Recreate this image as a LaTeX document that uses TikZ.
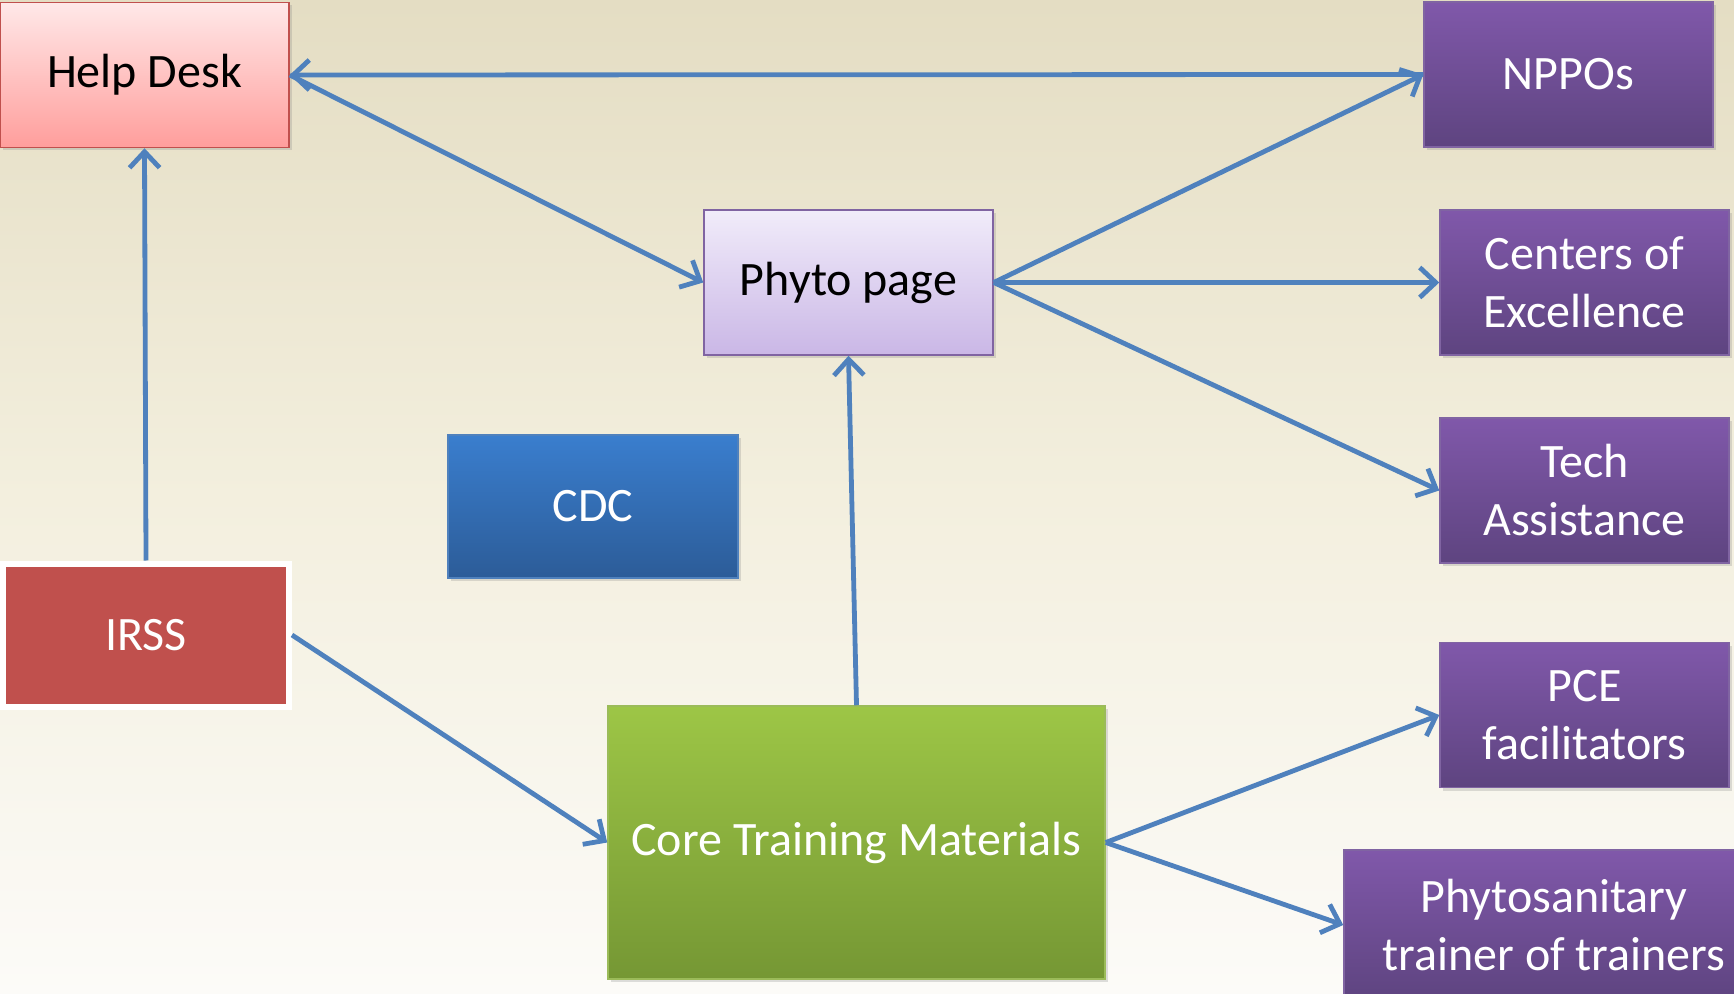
\documentclass[tikz,border=0pt]{standalone}
\usepackage{fontspec}
\setmainfont{Carlito}
\usetikzlibrary{arrows.meta,shadows}

\definecolor{linkblue}{RGB}{79,129,189}
\definecolor{bgtop}{RGB}{228,221,195}
\definecolor{bgmid}{RGB}{243,239,222}
\definecolor{bgbot}{RGB}{252,251,248}
\definecolor{helptop}{RGB}{255,232,232}
\definecolor{helpbot}{RGB}{255,158,156}
\definecolor{helpedge}{RGB}{192,80,77}
\definecolor{phytotop}{RGB}{241,236,250}
\definecolor{phytobot}{RGB}{202,183,230}
\definecolor{purpleedge}{RGB}{128,100,162}
\definecolor{purpletop}{RGB}{128,88,170}
\definecolor{purplebot}{RGB}{94,68,128}
\definecolor{cdctop}{RGB}{58,126,206}
\definecolor{cdcbot}{RGB}{44,92,152}
\definecolor{irssred}{RGB}{192,80,77}
\definecolor{coretop}{RGB}{157,198,70}
\definecolor{corebot}{RGB}{117,151,52}
\definecolor{coreedge}{RGB}{155,187,89}

\tikzset{every picture/.style={line width=0.75pt}}
\tikzset{
  box/.style={rectangle, inner sep=0pt, align=center, minimum width=144.5pt, minimum height=72.5pt,
    font=\fontsize{24}{29}\selectfont,
    drop shadow={opacity=0.25, shadow xshift=1.5pt, shadow yshift=-1.5pt}},
  purplebox/.style={box, draw=purpleedge, top color=purpletop, bottom color=purplebot, text=white},
  link/.style={draw=linkblue, line width=2.4pt, -{Straight Barb[length=8pt,width=15pt,line width=2.4pt]}}
}

\begin{document}
\begin{tikzpicture}[x=0.5pt,y=0.5pt,yscale=-1,xscale=1]

\useasboundingbox (0,0) rectangle (1734,994);
\shade [top color=bgtop, bottom color=bgbot, middle color=bgmid] (0,0) rectangle (1734,994);

% boxes
\node (help) [box, draw=helpedge, top color=helptop, bottom color=helpbot] at (144.5,75) {Help Desk};
\node (phyto) [box, draw=purpleedge, top color=phytotop, bottom color=phytobot] at (848.5,282.5) {Phyto page};
\node (cdc) [box, draw=linkblue, top color=cdctop, bottom color=cdcbot, text=white, minimum width=145pt, minimum height=71.5pt] at (593,506.5) {CDC};
\node (irss) [box, draw=white, line width=3pt, fill=irssred, text=white, minimum width=143pt, minimum height=71.5pt] at (146,635) {IRSS};
\node (core) [box, draw=coreedge, top color=coretop, bottom color=corebot, text=white, minimum width=248.5pt, minimum height=136.5pt] at (856.5,842.5) {Core Training Materials};

\node (nppo) [purplebox] at (1568.5,74.5) {NPPOs};
\node (coe) [purplebox] at (1584.5,282.5) {Centers of\\Excellence};
\node (tech) [purplebox] at (1584.5,490.5) {Tech\\Assistance};
\node (pce) [purplebox] at (1584.5,715) {PCE\\facilitators};
\node (tot) [purplebox, minimum width=210pt, minimum height=75pt] at (1554,925) {Phytosanitary\\trainer of trainers};

% links
\draw [link] (nppo.west) -- (help.east);
\draw [link] (help.east) -- (phyto.west);
\draw [link] (irss.north) -- (help.south);
\draw [link] (phyto.east) -- (nppo.west);
\draw [link] (phyto.east) -- (coe.west);
\draw [link] (phyto.east) -- (tech.west);
\draw [link] (core.north) -- (phyto.south);
\draw [link] (irss.east) -- (core.west);
\draw [link] (core.east) -- (pce.west);
\draw [link] (core.east) -- (tot.west);

\end{tikzpicture}
\end{document}
